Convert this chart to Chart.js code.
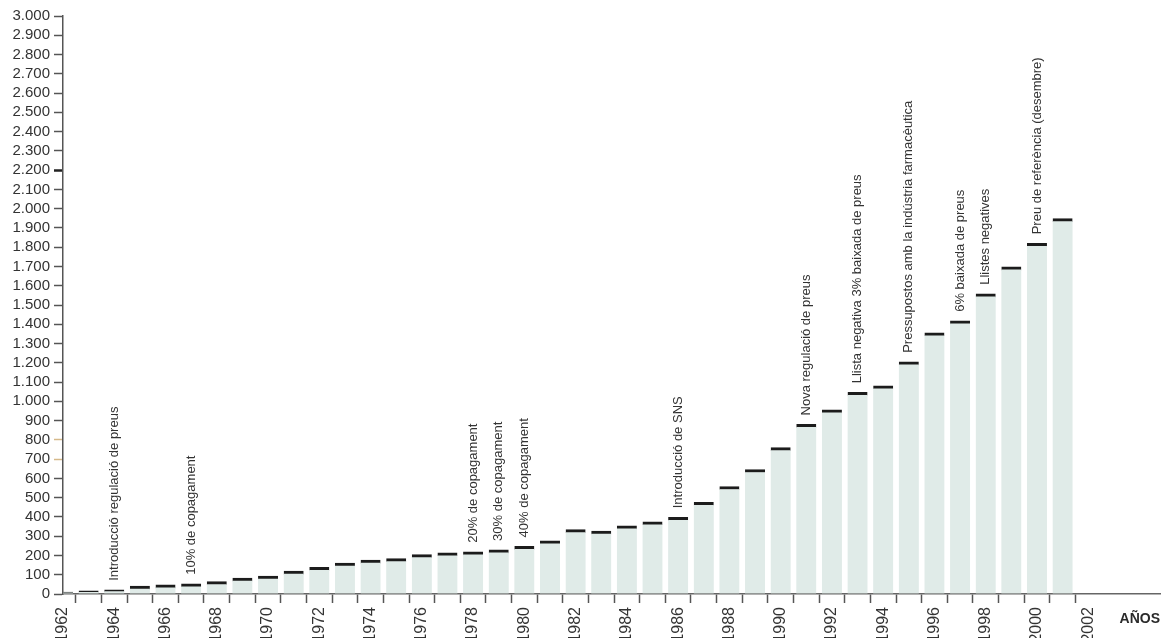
<!DOCTYPE html>
<html>
<head>
<meta charset="utf-8">
<script src="https://cdn.jsdelivr.net/npm/chart.js@4/dist/chart.umd.min.js"></script>
<style>
  html, body { margin: 0; padding: 0; background: #ffffff; }
  #wrap { width: 1163px; height: 638px; position: relative; }
</style>
</head>
<body>
<div id="wrap"><canvas id="c" width="1163" height="638"></canvas></div>
<script>
// ---- data ----
const years = [1962,1963,1964,1965,1966,1967,1968,1969,1970,1971,1972,1973,1974,1975,1976,1977,1978,1979,1980,1981,
               1982,1983,1984,1985,1986,1987,1988,1989,1990,1991,1992,1993,1994,1995,1996,1997,1998,1999,2000,2001];
const values = [10,16,22,41,47,53,64,83,93,119,139,161,176,184,204,214,219,229,247,276,
                334,327,354,375,398,476,558,646,760,880,956,1047,1081,1205,1356,1418,1558,1698,1820,1948];
const annotationYears = [1964,1967,1978,1979,1980,1986,1991,1993,1995,1997,1998,2000];
const annotationTexts = [
  "Introducció regulació de preus",
  "10% de copagament",
  "20% de copagament",
  "30% de copagament",
  "40% de copagament",
  "Introducció de SNS",
  "Nova regulació de preus",
  "Llista negativa 3% baixada de preus",
  "Pressupostos amb la indústria farmacèutica",
  "6% baixada de preus",
  "Llistes negatives",
  "Preu de referència (desembre)"
];
const xAxisTitle = "AÑOS";

const FONT = "'Liberation Sans', Arial, sans-serif";
Chart.defaults.font.family = FONT;

function fmtThousands(v) {
  v = Math.round(v);
  if (v >= 1000) return Math.floor(v / 1000) + '.' + String(v % 1000).padStart(3, '0');
  return String(v);
}

const annotationPlugin = {
  id: 'annotations',
  afterDatasetsDraw(chart) {
    const ctx = chart.ctx;
    const xs = chart.scales.x, ys = chart.scales.y;
    ctx.save();
    ctx.font = "13px " + FONT;
    ctx.fillStyle = '#333333';
    ctx.textAlign = 'left';
    ctx.textBaseline = 'middle';
    annotationYears.forEach((yr, i) => {
      const idx = years.indexOf(yr);
      const x = xs.getPixelForValue(yr);
      const y = ys.getPixelForValue(values[idx]) - 9;
      ctx.save();
      ctx.translate(x, y);
      ctx.rotate(-Math.PI / 2);
      ctx.fillText(annotationTexts[i], 0, 0);
      ctx.restore();
    });
    // axis title
    ctx.font = "bold 14px " + FONT;
    ctx.fillStyle = '#2a2a2a';
    ctx.textAlign = 'right';
    ctx.textBaseline = 'middle';
    ctx.fillText(xAxisTitle, chart.chartArea.right, chart.chartArea.bottom + 25);
    ctx.restore();
  }
};

new Chart(document.getElementById('c'), {
  type: 'bar',
  data: {
    datasets: [{
      data: years.map((y, i) => ({ x: y, y: values[i] })),
      backgroundColor: '#e0ebe8',
      borderColor: '#1c1c1c',
      borderWidth: { top: 3, left: 0, right: 0, bottom: 0 },
      borderSkipped: false,
      barThickness: 20,
      clip: { left: 0, top: false, right: false, bottom: false }
    }]
  },
  options: {
    responsive: false,
    animation: false,
    layout: { padding: { top: 16, right: 3, left: 0, bottom: 0 } },
    plugins: {
      legend: { display: false },
      tooltip: { enabled: false }
    },
    scales: {
      x: {
        type: 'linear',
        min: 1962,
        max: 2004.8,
        offset: false,
        afterFit(scale) { scale.height = 44; scale.paddingRight = 0; scale.paddingLeft = 0; },
        grid: {
          drawOnChartArea: false,
          drawTicks: true,
          tickLength: 9,
          tickWidth: 1.5,
          tickColor: (c) => (c.tick && c.tick.value > 2002) ? 'rgba(0,0,0,0)' : '#555555'
        },
        border: { display: true, color: '#666666', width: 1.5 },
        ticks: {
          stepSize: 1,
          autoSkip: false,
          minRotation: 90,
          maxRotation: 90,
          padding: 4,
          color: '#333333',
          font: { size: 16 },
          callback: (v) => (v % 2 === 0 && v <= 2002) ? String(v) : ''
        }
      },
      y: {
        min: 0,
        max: 3000,
        afterFit(scale) { scale.width = 63; scale.paddingTop = 0; scale.paddingBottom = 0; },
        grid: {
          drawOnChartArea: false,
          drawTicks: true,
          tickLength: 9,
          tickWidth: (c) => (c.tick && c.tick.value === 2200) ? 2.5 : 1.5,
          tickColor: (c) => {
            if (!c.tick) return '#555555';
            if (c.tick.value === 700 || c.tick.value === 800) return '#d6b98a';
            if (c.tick.value === 2200) return '#222222';
            return '#555555';
          }
        },
        border: { display: true, color: '#555555', width: 1.5 },
        ticks: {
          stepSize: 100,
          autoSkip: false,
          padding: 4,
          color: '#333333',
          font: { size: 15 },
          callback: (v) => fmtThousands(v)
        }
      }
    }
  },
  plugins: [annotationPlugin]
});
</script>
</body>
</html>
